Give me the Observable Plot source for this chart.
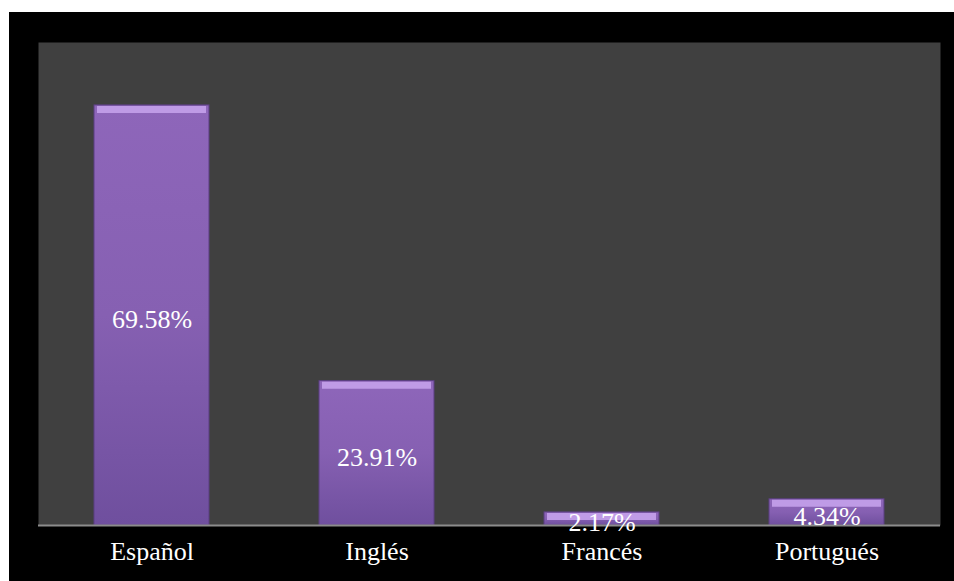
<!DOCTYPE html>
<html>
<head>
<meta charset="utf-8">
<script src="https://cdn.jsdelivr.net/npm/d3@7"></script>
<script src="https://cdn.jsdelivr.net/npm/@observablehq/plot@0.6"></script>
<style>
  html, body { margin: 0; padding: 0; background: #ffffff; }
  #chart { position: absolute; left: 9px; top: 12px; width: 945px; height: 569px; background: #000000; }
  #chart svg { display: block; }
  #chart svg text { font-family: "Liberation Serif", "DejaVu Serif", serif !important; }
</style>
</head>
<body>
<div id="chart"></div>
<script>
const categories = ["Español", "Inglés", "Francés", "Portugués"];
const values = [69.58, 23.91, 2.17, 4.34];
const valueLabels = ["69.58%", "23.91%", "2.17%", "4.34%"];

const data = categories.map((c, i) => ({lang: c, value: values[i], label: valueLabels[i]}));

const font = "Liberation Serif";

const chart = Plot.plot({
  width: 945,
  height: 569,
  marginLeft: 29,
  marginRight: 14,
  marginTop: 30,
  marginBottom: 56,
  style: {background: "#000000", fontFamily: font, color: "#ffffff", overflow: "visible"},
  x: {domain: categories, paddingInner: 0.49, paddingOuter: 0.245, label: null},
  y: {domain: [0, 80], axis: null},
  marks: [
    Plot.frame({fill: "#404040", stroke: "none"}),
    Plot.barY(data, {x: "lang", y: "value", fill: "url(#barGrad)", stroke: "#5b3f82", strokeWidth: 1}),
    Plot.tickY(data, {x: "lang", y: "value", stroke: "#bf9be6", strokeWidth: 7, dy: 4, insetLeft: 3, insetRight: 3}),
    Plot.ruleY([0], {stroke: "#8c8c8c", strokeWidth: 2}),
    Plot.text(data, {x: "lang", y: d => d.value / 2, text: "label", fill: "#ffffff", fontSize: 26, fontFamily: font, lineAnchor: "middle", dy: 4}),
    Plot.axisX({tickSize: 0, tickPadding: 16, fontSize: 26, fontFamily: font, fill: "#ffffff", label: null, lineAnchor: "top"})
  ]
});

const ns = "http://www.w3.org/2000/svg";
const defs = document.createElementNS(ns, "defs");
defs.innerHTML = `
  <linearGradient id="barGrad" x1="0" y1="0" x2="0" y2="1">
    <stop offset="0" stop-color="#8e66ba"/>
    <stop offset="0.5" stop-color="#8660b2"/>
    <stop offset="1" stop-color="#6f4f9e"/>
  </linearGradient>`;
chart.insertBefore(defs, chart.firstChild);
document.getElementById("chart").appendChild(chart);
</script>
</body>
</html>
